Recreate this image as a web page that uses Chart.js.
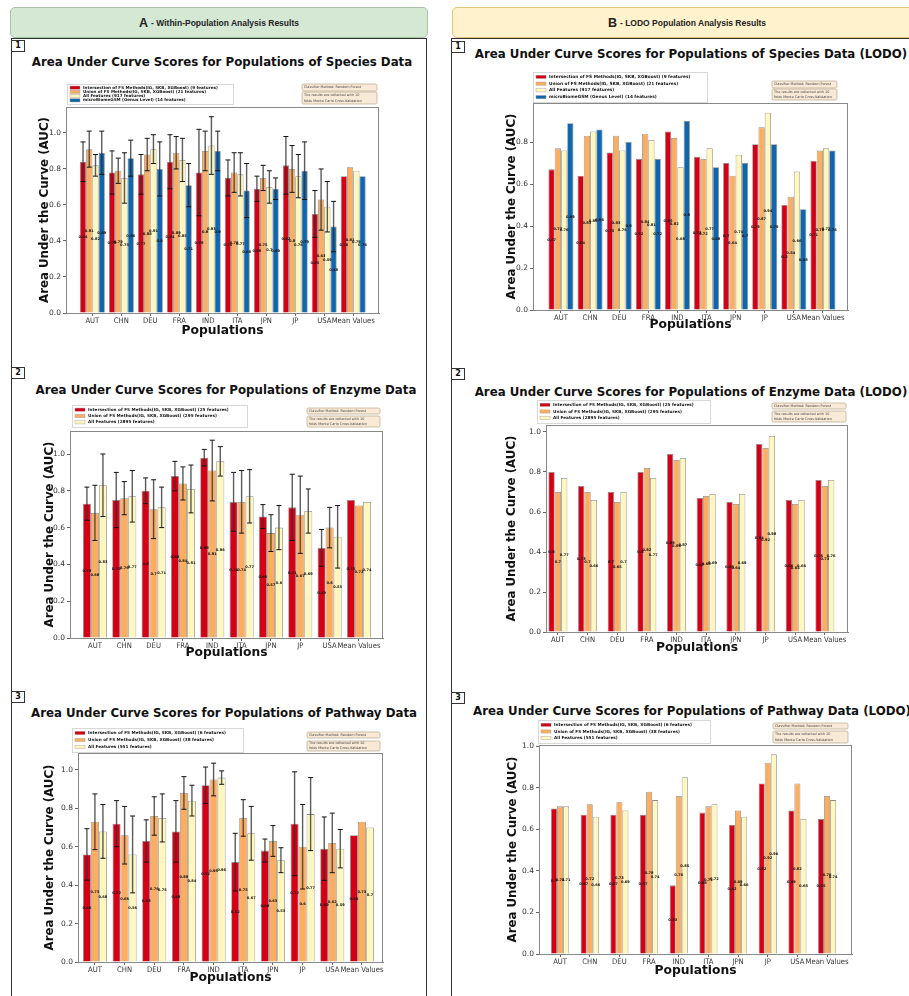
<!DOCTYPE html>
<html>
<head>
<meta charset="utf-8">
<script src="https://cdn.jsdelivr.net/npm/chart.js@4.4.1/dist/chart.umd.min.js"></script>
<style>
  html, body { margin: 0; padding: 0; background: #fff; }
  body { width: 909px; height: 996px; position: relative; overflow: hidden; font-family: 'DejaVu Sans', sans-serif; }
  .hdr { position: absolute; top: 7px; height: 31px; border-radius: 5px; box-sizing: border-box;
         font-family: 'Liberation Sans', Arial, sans-serif; font-weight: bold; font-size: 8.5px; color: #222;
         display: flex; align-items: center; justify-content: center; }
  .hdr b { font-size: 12.5px; margin-right: 3px; }
  #hdrA { left: 10px; width: 418px; background: #d5e8d4; border: 1px solid #a7c3a4; }
  #hdrB { left: 452px; width: 470px; background: #fff2cc; border: 1px solid #e0c47a; }
  .frame { position: absolute; top: 38px; height: 980px; border: 1px solid #333; box-sizing: border-box; }
  .num { position: absolute; width: 14px; height: 12px; border: 1px solid #333; background: #fff; box-sizing: border-box;
         font: bold 8px 'DejaVu Sans'; text-align: center; line-height: 10px; color: #111; }
  .ttl { position: absolute; white-space: nowrap; transform: translate(-50%, -50%); font: bold 11.8px 'DejaVu Sans'; color: #111; }
</style>
</head>
<body>
<div class="hdr" id="hdrA"><b>A</b> - Within-Population Analysis Results</div>
<div class="hdr" id="hdrB"><b>B</b> - LODO Population Analysis Results</div>
<div class="frame" style="left:11px;width:416px"></div>
<div class="frame" style="left:451px;width:520px"></div>
<div class="num" style="left:11px;top:40px">1</div>
<div class="num" style="left:11px;top:367px">2</div>
<div class="num" style="left:11px;top:691px">3</div>
<div class="num" style="left:451px;top:41px">1</div>
<div class="num" style="left:451px;top:368px">2</div>
<div class="num" style="left:451px;top:692px">3</div>

<script>
// categories and axis ticks
const populations = ['AUT', 'CHN', 'DEU', 'FRA', 'IND', 'ITA', 'JPN', 'JP', 'USA', 'Mean Values'];
const yTickValues = [0, 0.2, 0.4, 0.6, 0.8, 1.0];

// species, within-population (mean AUC and std)
const speciesInter = [0.84, 0.78, 0.77, 0.84, 0.78, 0.75, 0.69, 0.82, 0.55, 0.76];
const speciesUnion = [0.91, 0.79, 0.88, 0.89, 0.90, 0.78, 0.75, 0.80, 0.63, 0.81];
const speciesAll   = [0.82, 0.75, 0.91, 0.85, 0.93, 0.77, 0.70, 0.76, 0.59, 0.79];
const speciesGsm   = [0.89, 0.86, 0.80, 0.71, 0.90, 0.68, 0.69, 0.79, 0.48, 0.76];
const speciesInterErr = [0.11, 0.12, 0.11, 0.15, 0.24, 0.10, 0.07, 0.16, 0.13, null];
const speciesUnionErr = [0.10, 0.07, 0.09, 0.09, 0.11, 0.11, 0.07, 0.13, 0.17, null];
const speciesAllErr   = [0.06, 0.14, 0.08, 0.12, 0.16, 0.12, 0.09, 0.12, 0.14, null];
const speciesGsmErr   = [0.12, 0.10, 0.15, 0.12, 0.11, 0.15, 0.06, 0.16, 0.14, null];

// enzyme, within-population
const enzymeInter = [0.73, 0.75, 0.80, 0.88, 0.98, 0.74, 0.66, 0.71, 0.49, 0.75];
const enzymeUnion = [0.68, 0.76, 0.70, 0.84, 0.91, 0.74, 0.57, 0.67, 0.60, 0.72];
const enzymeAll   = [0.83, 0.77, 0.71, 0.81, 0.96, 0.77, 0.60, 0.69, 0.55, 0.74];
const enzymeInterErr = [0.09, 0.15, 0.07, 0.08, 0.045, 0.16, 0.065, 0.18, 0.10, null];
const enzymeUnionErr = [0.15, 0.09, 0.16, 0.09, 0.165, 0.17, 0.10, 0.21, 0.11, null];
const enzymeAllErr   = [0.17, 0.14, 0.11, 0.13, 0.08, 0.145, 0.12, 0.12, 0.17, null];

// pathway, within-population
const pathwayInter = [0.56, 0.72, 0.63, 0.68, 0.92, 0.52, 0.58, 0.72, 0.59, 0.66];
const pathwayUnion = [0.73, 0.66, 0.76, 0.88, 0.95, 0.75, 0.63, 0.60, 0.62, 0.73];
const pathwayAll   = [0.68, 0.56, 0.75, 0.84, 0.96, 0.67, 0.53, 0.77, 0.59, 0.70];
const pathwayInterErr = [0.134, 0.12, 0.11, 0.16, 0.095, 0.15, 0.06, 0.27, 0.165, null];
const pathwayUnionErr = [0.145, 0.15, 0.10, 0.085, 0.085, 0.095, 0.08, 0.22, 0.155, null];
const pathwayAllErr   = [0.14, 0.20, 0.125, 0.08, 0.035, 0.14, 0.065, 0.19, 0.10, null];

// LODO results
const lodoSpeciesInter = [0.67, 0.64, 0.75, 0.72, 0.85, 0.73, 0.70, 0.79, 0.50, 0.71];
const lodoSpeciesUnion = [0.77, 0.83, 0.83, 0.84, 0.82, 0.72, 0.64, 0.87, 0.54, 0.76];
const lodoSpeciesAll   = [0.76, 0.85, 0.76, 0.81, 0.68, 0.77, 0.74, 0.94, 0.66, 0.77];
const lodoSpeciesGsm   = [0.89, 0.86, 0.80, 0.72, 0.90, 0.68, 0.70, 0.79, 0.48, 0.76];

const lodoEnzymeInter = [0.80, 0.73, 0.70, 0.80, 0.89, 0.67, 0.65, 0.94, 0.66, 0.76];
const lodoEnzymeUnion = [0.70, 0.70, 0.65, 0.82, 0.86, 0.68, 0.64, 0.92, 0.64, 0.73];
const lodoEnzymeAll   = [0.77, 0.66, 0.70, 0.77, 0.87, 0.69, 0.69, 0.98, 0.66, 0.76];

const lodoPathwayInter = [0.70, 0.67, 0.67, 0.67, 0.33, 0.68, 0.62, 0.82, 0.69, 0.65];
const lodoPathwayUnion = [0.71, 0.72, 0.73, 0.78, 0.76, 0.71, 0.69, 0.92, 0.82, 0.76];
const lodoPathwayAll   = [0.71, 0.66, 0.69, 0.74, 0.85, 0.72, 0.66, 0.96, 0.65, 0.74];

const colInter = '#d40016';
const colUnion = '#fdad5f';
const colAll   = '#fff7bd';
const colGsm   = '#0f66ad';

Chart.defaults.font.family = "'DejaVu Sans', sans-serif";
Chart.defaults.color = '#222';

function series(label, values, errors, color) {
    return {
        label: label,
        data: values.map((v, i) => ({ x: i, y: v })),
        errors: errors,
        backgroundColor: color,
        borderColor: '#8c8c8c',
        borderWidth: 0.8
    };
}

// value text at half height of each bar
const valueLabels = {
    id: 'valueLabels',
    afterDatasetsDraw(chart) {
        const ctx = chart.ctx, y = chart.scales.y;
        ctx.save();
        ctx.font = 'bold 3.6px DejaVu Sans';
        ctx.fillStyle = '#111';
        ctx.textAlign = 'center';
        ctx.textBaseline = 'middle';
        chart.data.datasets.forEach((ds, di) => {
            chart.getDatasetMeta(di).data.forEach((bar, i) => {
                const v = ds.data[i].y;
                ctx.fillText(String(+v.toFixed(2)), bar.x, y.getPixelForValue(v / 2));
            });
        });
        ctx.restore();
    }
};

// std error bars
const errorBars = {
    id: 'errorBars',
    afterDatasetsDraw(chart) {
        const ctx = chart.ctx, y = chart.scales.y;
        ctx.save();
        chart.data.datasets.forEach((ds, di) => {
            if (!ds.errors) return;
            chart.getDatasetMeta(di).data.forEach((bar, i) => {
                const e = ds.errors[i];
                if (e == null) return;
                const v = ds.data[i].y;
                const top = y.getPixelForValue(v + e), bot = y.getPixelForValue(v - e);
                ctx.strokeStyle = 'rgba(50,50,50,0.8)';
                ctx.lineWidth = 1.4;
                ctx.beginPath();
                ctx.moveTo(bar.x, top);
                ctx.lineTo(bar.x, bot);
                ctx.stroke();
                ctx.strokeStyle = '#111';
                ctx.lineWidth = 1;
                ctx.beginPath();
                ctx.moveTo(bar.x - 2.5, top); ctx.lineTo(bar.x + 2.5, top);
                ctx.moveTo(bar.x - 2.5, bot); ctx.lineTo(bar.x + 2.5, bot);
                ctx.stroke();
            });
        });
        ctx.restore();
    }
};

// axes frame, legend box and the two note boxes
const panelKey = {
    id: 'panelKey',
    afterDraw(chart, args, opts) {
        const ctx = chart.ctx, a = chart.chartArea;
        ctx.save();
        ctx.strokeStyle = '#888';
        ctx.lineWidth = 1;
        ctx.strokeRect(a.left + 0.5, a.top + 0.5, a.right - a.left - 1, a.bottom - a.top);

        const ox = opts.origin.x, oy = opts.origin.y, lg = opts.legend;
        const lx = lg.x - ox, ly = lg.y - oy;
        ctx.fillStyle = '#fff';
        ctx.strokeStyle = '#d8d8d8';
        ctx.fillRect(lx, ly, lg.w, lg.h);
        ctx.strokeRect(lx + 0.5, ly + 0.5, lg.w, lg.h);
        const n = chart.data.datasets.length;
        const rowH = (lg.h - 3) / n;
        ctx.font = 'bold ' + lg.font + 'px DejaVu Sans';
        ctx.textBaseline = 'middle';
        chart.data.datasets.forEach((ds, i) => {
            const cy = ly + 1.5 + rowH * (i + 0.5);
            ctx.fillStyle = ds.backgroundColor;
            ctx.fillRect(lx + 3, cy - 1.6, 10, 3.2);
            ctx.strokeStyle = '#999';
            ctx.lineWidth = 0.4;
            ctx.strokeRect(lx + 3, cy - 1.6, 10, 3.2);
            ctx.fillStyle = '#111';
            ctx.fillText(ds.label, lx + 16, cy);
        });

        opts.info.forEach((b) => {
            const bx = b.x - ox, by = b.y - oy;
            ctx.fillStyle = '#f8ead6';
            ctx.strokeStyle = '#b9a88e';
            ctx.lineWidth = 0.7;
            ctx.beginPath();
            ctx.roundRect(bx, by, b.w, b.h, 1.5);
            ctx.fill();
            ctx.stroke();
            ctx.fillStyle = '#444';
            ctx.font = '3.4px DejaVu Sans';
            ctx.textAlign = 'left';
            ctx.textBaseline = 'middle';
            const lh = b.h / b.lines.length;
            b.lines.forEach((t, k) => ctx.fillText(t, bx + 2, by + lh * (k + 0.5)));
        });
        ctx.restore();
    }
};

function drawPanel(p) {
    const left = p.yTitleX - 10;
    const top = Math.min(p.legend.y, p.info[0].y) - 3;
    const right = Math.max(p.plot.r, p.info[0].x + p.info[0].w) + 6;
    const bottom = p.xTitleY + 9;

    const title = document.createElement('div');
    title.className = 'ttl';
    title.style.left = p.titleAt[0] + 'px';
    title.style.top = p.titleAt[1] + 'px';
    title.textContent = p.title;
    document.body.appendChild(title);

    const wrap = document.createElement('div');
    wrap.style.cssText = 'position:absolute;left:' + left + 'px;top:' + top + 'px;width:' + (right - left) +
        'px;height:' + (bottom - top) + 'px;';
    const canvas = document.createElement('canvas');
    wrap.appendChild(canvas);
    document.body.appendChild(wrap);

    new Chart(canvas.getContext('2d'), {
        type: 'bar',
        data: { datasets: p.datasets },
        options: {
            responsive: true,
            maintainAspectRatio: false,
            animation: false,
            devicePixelRatio: 1,
            datasets: { bar: { categoryPercentage: p.groupWidth, barPercentage: 1 } },
            layout: { padding: { top: p.plot.t - top, right: right - p.plot.r, left: 0, bottom: 0 } },
            plugins: {
                legend: { display: false },
                tooltip: { enabled: false },
                panelKey: { origin: { x: left, y: top }, legend: p.legend, info: p.info }
            },
            scales: {
                x: {
                    type: 'linear',
                    offset: false,
                    min: p.xRange[0],
                    max: p.xRange[1],
                    afterFit: (s) => { s.height = bottom - p.plot.b; },
                    afterBuildTicks: (s) => { s.ticks = populations.map((c, i) => ({ value: i })); },
                    grid: { drawOnChartArea: false, tickLength: 3, tickColor: '#666', offset: false },
                    border: { color: '#777' },
                    ticks: {
                        autoSkip: false, maxRotation: 0, padding: 0,
                        font: { size: 7.6, family: "'DejaVu Sans Condensed', 'DejaVu Sans', sans-serif" }, color: '#333',
                        callback: (v) => populations[v]
                    },
                    title: {
                        display: true, text: 'Populations',
                        font: { size: 12.3, weight: 'bold' }, color: '#111',
                        padding: { top: 0, bottom: 2 }
                    }
                },
                y: {
                    min: 0,
                    max: p.yMax,
                    afterFit: (s) => { s.width = p.plot.l - left; },
                    afterBuildTicks: (s) => { s.ticks = yTickValues.filter((v) => v <= p.yMax).map((v) => ({ value: v })); },
                    grid: { drawOnChartArea: false, tickLength: 3, tickColor: '#666' },
                    border: { color: '#777' },
                    ticks: { padding: 2, font: { size: 7.5 }, color: '#333', callback: (v) => v.toFixed(1) },
                    title: {
                        display: true, text: 'Area Under the Curve (AUC)',
                        font: { size: 11.8, weight: 'bold' }, color: '#111',
                        padding: { top: 3, bottom: 0 }
                    }
                }
            }
        },
        plugins: [valueLabels, errorBars, panelKey]
    });
}

const infoLine1 = ['Classifier Method: Random Forest'];
const infoLine2 = ['The results are collected with 10', 'folds Monte Carlo Cross-Validation'];

function infoBoxes(x, y1, h1, y2, h2, w) {
    return [{ x: x, y: y1, w: w, h: h1, lines: infoLine1 }, { x: x, y: y2, w: w, h: h2, lines: infoLine2 }];
}

drawPanel({
    title: 'Area Under Curve Scores for Populations of Species Data', titleAt: [222, 62],
    plot: { l: 66, r: 379, t: 107, b: 313 }, yMax: 1.144, xRange: [-0.91, 9.89], groupWidth: 0.86,
    yTitleX: 45, xTitleY: 331,
    legend: { x: 67, y: 84, w: 166, h: 20, font: 4.1 },
    info: infoBoxes(302, 84, 7, 92, 12, 75),
    datasets: [
        series('Intersection of FS Methods(IG, SKB, XGBoost) (9 features)', speciesInter, speciesInterErr, colInter),
        series('Union of FS Methods(IG, SKB, XGBoost) (21 features)', speciesUnion, speciesUnionErr, colUnion),
        series('All Features (917 features)', speciesAll, speciesAllErr, colAll),
        series('microBiomeGSM (Genus Level) (14 features)', speciesGsm, speciesGsmErr, colGsm)
    ]
});

drawPanel({
    title: 'Area Under Curve Scores for Populations of Enzyme Data', titleAt: [226, 390],
    plot: { l: 70, r: 383, t: 431, b: 638 }, yMax: 1.125, xRange: [-0.85, 9.82], groupWidth: 0.82,
    yTitleX: 50, xTitleY: 653,
    legend: { x: 72, y: 405, w: 175, h: 22, font: 4.2 },
    info: infoBoxes(307, 408, 6, 416, 11, 73),
    datasets: [
        series('Intersection of FS Methods(IG, SKB, XGBoost) (25 features)', enzymeInter, enzymeInterErr, colInter),
        series('Union of FS Methods(IG, SKB, XGBoost) (295 features)', enzymeUnion, enzymeUnionErr, colUnion),
        series('All Features (2895 features)', enzymeAll, enzymeAllErr, colAll)
    ]
});

drawPanel({
    title: 'Area Under Curve Scores for Populations of Pathway Data', titleAt: [224, 713],
    plot: { l: 78, r: 383, t: 753, b: 962 }, yMax: 1.088, xRange: [-0.57, 9.71], groupWidth: 0.81,
    yTitleX: 50, xTitleY: 978,
    legend: { x: 72, y: 728, w: 171, h: 24, font: 4.2 },
    info: infoBoxes(307, 732, 6, 741, 10, 73),
    datasets: [
        series('Intersection of FS Methods(IG, SKB, XGBoost) (6 features)', pathwayInter, pathwayInterErr, colInter),
        series('Union of FS Methods(IG, SKB, XGBoost) (38 features)', pathwayUnion, pathwayUnionErr, colUnion),
        series('All Features (551 features)', pathwayAll, pathwayAllErr, colAll)
    ]
});

drawPanel({
    title: 'Area Under Curve Scores for Populations of Species Data (LODO)', titleAt: [691, 54],
    plot: { l: 533, r: 848, t: 103, b: 310 }, yMax: 0.986, xRange: [-0.96, 9.86], groupWidth: 0.86,
    yTitleX: 512, xTitleY: 325,
    legend: { x: 533, y: 72, w: 174, h: 30, font: 4.3 },
    info: infoBoxes(772, 81, 7, 89, 11, 65),
    datasets: [
        series('Intersection of FS Methods(IG, SKB, XGBoost) (9 features)', lodoSpeciesInter, null, colInter),
        series('Union of FS Methods(IG, SKB, XGBoost) (21 features)', lodoSpeciesUnion, null, colUnion),
        series('All Features (917 features)', lodoSpeciesAll, null, colAll),
        series('microBiomeGSM (Genus Level) (14 features)', lodoSpeciesGsm, null, colGsm)
    ]
});

drawPanel({
    title: 'Area Under Curve Scores for Populations of Enzyme Data (LODO)', titleAt: [691, 392],
    plot: { l: 546, r: 848, t: 425, b: 632 }, yMax: 1.035, xRange: [-0.40, 9.78], groupWidth: 0.64,
    yTitleX: 512, xTitleY: 648,
    legend: { x: 537, y: 400, w: 173, h: 23, font: 4.2 },
    info: infoBoxes(772, 403, 6, 411, 11, 74),
    datasets: [
        series('Intersection of FS Methods(IG, SKB, XGBoost) (25 features)', lodoEnzymeInter, null, colInter),
        series('Union of FS Methods(IG, SKB, XGBoost) (295 features)', lodoEnzymeUnion, null, colUnion),
        series('All Features (2895 features)', lodoEnzymeAll, null, colAll)
    ]
});

drawPanel({
    title: 'Area Under Curve Scores for Populations of Pathway Data (LODO)', titleAt: [692, 711],
    plot: { l: 539, r: 852, t: 745, b: 954 }, yMax: 1.005, xRange: [-0.71, 9.84], groupWidth: 0.61,
    yTitleX: 513, xTitleY: 971,
    legend: { x: 538, y: 720, w: 172, h: 23, font: 4.2 },
    info: infoBoxes(773, 723, 6, 731, 12, 75),
    datasets: [
        series('Intersection of FS Methods(IG, SKB, XGBoost) (6 features)', lodoPathwayInter, null, colInter),
        series('Union of FS Methods(IG, SKB, XGBoost) (38 features)', lodoPathwayUnion, null, colUnion),
        series('All Features (551 features)', lodoPathwayAll, null, colAll)
    ]
});
</script>
</body>
</html>
